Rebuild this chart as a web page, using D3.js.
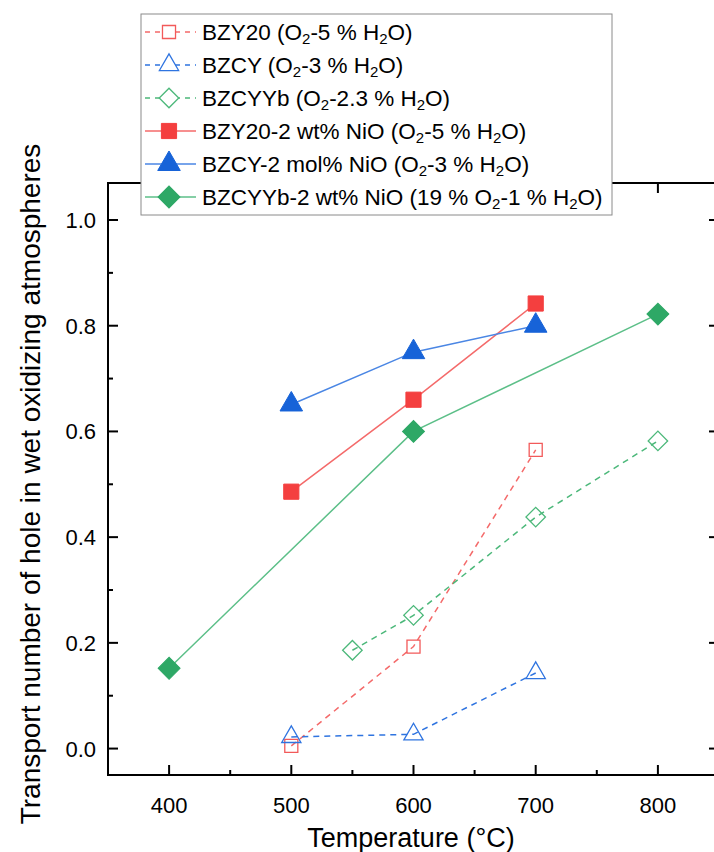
<!DOCTYPE html>
<html>
<head>
<meta charset="utf-8">
<script src="https://cdn.jsdelivr.net/npm/d3@7"></script>
<style>
  body { margin: 0; background: #fff; }
  svg { font-family: "Liberation Sans", Arial, sans-serif; }
</style>
</head>
<body>
<div id="plot"></div>
<script>
// data
const bzy20 = [{t: 500, v: 0.005}, {t: 600, v: 0.193}, {t: 700, v: 0.565}];
const bzcy = [{t: 500, v: 0.022}, {t: 600, v: 0.027}, {t: 700, v: 0.143}];
const bzcyyb = [{t: 550, v: 0.186}, {t: 600, v: 0.252}, {t: 700, v: 0.438}, {t: 800, v: 0.582}];
const bzy20Ni = [{t: 500, v: 0.486}, {t: 600, v: 0.66}, {t: 700, v: 0.842}];
const bzcyNi = [{t: 500, v: 0.651}, {t: 600, v: 0.75}, {t: 700, v: 0.80}];
const bzcyybNi = [{t: 400, v: 0.152}, {t: 600, v: 0.60}, {t: 800, v: 0.822}];

const xTicks = [400, 500, 600, 700, 800];
const yTicks = [0.0, 0.2, 0.4, 0.6, 0.8, 1.0];

// legend labels, pieces: [text, isSub]
const labels = [
  [["BZY20 (O", 0], ["2", 1], ["-5 % H", 0], ["2", 1], ["O)", 0]],
  [["BZCY (O", 0], ["2", 1], ["-3 % H", 0], ["2", 1], ["O)", 0]],
  [["BZCYYb (O", 0], ["2", 1], ["-2.3 % H", 0], ["2", 1], ["O)", 0]],
  [["BZY20-2 wt% NiO (O", 0], ["2", 1], ["-5 % H", 0], ["2", 1], ["O)", 0]],
  [["BZCY-2 mol% NiO (O", 0], ["2", 1], ["-3 % H", 0], ["2", 1], ["O)", 0]],
  [["BZCYYb-2 wt% NiO (19 % O", 0], ["2", 1], ["-1 % H", 0], ["2", 1], ["O)", 0]]
];

// rot: diamonds are squares turned 45 degrees
const series = [
  {data: bzy20, fill: "none", stroke: "#f25a5a", line: "#f46a6a", dash: "6,5", shape: d3.symbolSquare, size: 170, rot: 0, sw: 1.3},
  {data: bzcy, fill: "none", stroke: "#2f74e0", line: "#2f74e0", dash: "6,5", shape: d3.symbolTriangle, size: 160, rot: 0, sw: 1.3},
  {data: bzcyyb, fill: "none", stroke: "#4cb87a", line: "#4cb87a", dash: "6,5", shape: d3.symbolSquare, size: 190, rot: 45, sw: 1.3},
  {data: bzy20Ni, fill: "#f43f3f", stroke: "#f43f3f", line: "#f46a6a", dash: null, shape: d3.symbolSquare, size: 230, rot: 0, sw: 1},
  {data: bzcyNi, fill: "#1763d8", stroke: "#1763d8", line: "#4a86e4", dash: null, shape: d3.symbolTriangle, size: 220, rot: 0, sw: 1},
  {data: bzcyybNi, fill: "#2ea866", stroke: "#2ea866", line: "#5cbf88", dash: null, shape: d3.symbolSquare, size: 240, rot: 45, sw: 1}
];

const W = 714, H = 852;
const margin = {left: 108, right: -5, top: 183, bottom: 77};

const svg = d3.select("#plot").append("svg")
    .attr("width", W).attr("height", H);

const x = d3.scaleLinear().domain([350, 850]).range([margin.left, W - margin.right]);
const y = d3.scaleLinear().domain([-0.05, 1.07]).range([H - margin.bottom, margin.top]);

const x0 = x.range()[0], x1 = x.range()[1], y0 = y.range()[0], y1 = y.range()[1];

// frame
svg.append("rect")
    .attr("x", x0).attr("y", y1)
    .attr("width", x1 - x0).attr("height", y0 - y1)
    .attr("fill", "none").attr("stroke", "#000").attr("stroke-width", 2);

const xMinor = d3.range(450, 850, 100);
const yMinor = d3.range(0.1, 1.05, 0.2);

// bottom & top ticks (inward)
svg.append("g").selectAll("line").data(xTicks).join("line")
    .attr("x1", d => x(d)).attr("x2", d => x(d))
    .attr("y1", y0).attr("y2", y0 - 10)
    .attr("stroke", "#000").attr("stroke-width", 2);
svg.append("g").selectAll("line").data(xMinor).join("line")
    .attr("x1", d => x(d)).attr("x2", d => x(d))
    .attr("y1", y0).attr("y2", y0 - 5)
    .attr("stroke", "#000").attr("stroke-width", 2);
svg.append("g").selectAll("line").data(xTicks).join("line")
    .attr("x1", d => x(d)).attr("x2", d => x(d))
    .attr("y1", y1).attr("y2", y1 + 10)
    .attr("stroke", "#000").attr("stroke-width", 2);
svg.append("g").selectAll("line").data(xMinor).join("line")
    .attr("x1", d => x(d)).attr("x2", d => x(d))
    .attr("y1", y1).attr("y2", y1 + 5)
    .attr("stroke", "#000").attr("stroke-width", 2);

// left & right ticks
svg.append("g").selectAll("line").data(yTicks).join("line")
    .attr("x1", x0).attr("x2", x0 + 10)
    .attr("y1", d => y(d)).attr("y2", d => y(d))
    .attr("stroke", "#000").attr("stroke-width", 2);
svg.append("g").selectAll("line").data(yMinor).join("line")
    .attr("x1", x0).attr("x2", x0 + 5)
    .attr("y1", d => y(d)).attr("y2", d => y(d))
    .attr("stroke", "#000").attr("stroke-width", 2);
svg.append("g").selectAll("line").data(yTicks).join("line")
    .attr("x1", x1).attr("x2", x1 - 10)
    .attr("y1", d => y(d)).attr("y2", d => y(d))
    .attr("stroke", "#000").attr("stroke-width", 2);
svg.append("g").selectAll("line").data(yMinor).join("line")
    .attr("x1", x1).attr("x2", x1 - 5)
    .attr("y1", d => y(d)).attr("y2", d => y(d))
    .attr("stroke", "#000").attr("stroke-width", 2);

// tick labels
svg.append("g").selectAll("text").data(xTicks).join("text")
    .attr("x", d => x(d)).attr("y", y0 + 38)
    .attr("text-anchor", "middle").attr("font-size", 22)
    .text(d => d);
svg.append("g").selectAll("text").data(yTicks).join("text")
    .attr("x", x0 - 12).attr("y", d => y(d) + 8)
    .attr("text-anchor", "end").attr("font-size", 22)
    .text(d => d.toFixed(1));

// axis titles
svg.append("text")
    .attr("x", 411).attr("y", 847)
    .attr("text-anchor", "middle").attr("font-size", 27)
    .text("Temperature (\u00B0C)");
svg.append("text")
    .attr("transform", `translate(40,${(y0 + y1) / 2 + 5}) rotate(-90)`)
    .attr("text-anchor", "middle").attr("font-size", 28)
    .text("Transport number of hole in wet oxidizing atmospheres");

// lines and markers
const line = d3.line().x(d => x(d.t)).y(d => y(d.v));
series.forEach(s => {
  svg.append("path")
      .datum(s.data)
      .attr("d", line)
      .attr("fill", "none")
      .attr("stroke", s.line)
      .attr("stroke-width", 1.5)
      .attr("stroke-dasharray", s.dash);
});
series.forEach(s => {
  svg.append("g").selectAll("path").data(s.data).join("path")
      .attr("transform", d => `translate(${x(d.t)},${y(d.v)}) rotate(${s.rot})`)
      .attr("d", d3.symbol().type(s.shape).size(s.size))
      .attr("fill", s.fill === "none" ? "#fff" : s.fill)
      .attr("fill-opacity", s.fill === "none" ? 0 : 1)
      .attr("stroke", s.stroke)
      .attr("stroke-width", s.sw);
});

// legend
const lg = svg.append("g");
lg.append("rect")
    .attr("x", 141).attr("y", 14)
    .attr("width", 471).attr("height", 201)
    .attr("fill", "#fff").attr("stroke", "#8a8a8a").attr("stroke-width", 1);

series.forEach((s, i) => {
  const ly = 32 + i * 33;
  lg.append("line")
      .attr("x1", 145).attr("x2", 196)
      .attr("y1", ly).attr("y2", ly)
      .attr("stroke", s.line).attr("stroke-width", 1.5)
      .attr("stroke-dasharray", s.dash ? "5,5" : null);
  lg.append("path")
      .attr("transform", `translate(169,${ly}) rotate(${s.rot})`)
      .attr("d", d3.symbol().type(s.shape).size(s.size))
      .attr("fill", s.fill === "none" ? "#fff" : s.fill)
      .attr("stroke", s.stroke)
      .attr("stroke-width", s.sw);
  const t = lg.append("text")
      .attr("x", 202).attr("y", ly + 8)
      .attr("font-size", 22.5);
  labels[i].forEach(p => {
    t.append("tspan")
        .attr("font-size", p[1] ? 15 : 22.5)
        .attr("baseline-shift", p[1] ? "-25%" : null)
        .text(p[0]);
  });
});
</script>
</body>
</html>
